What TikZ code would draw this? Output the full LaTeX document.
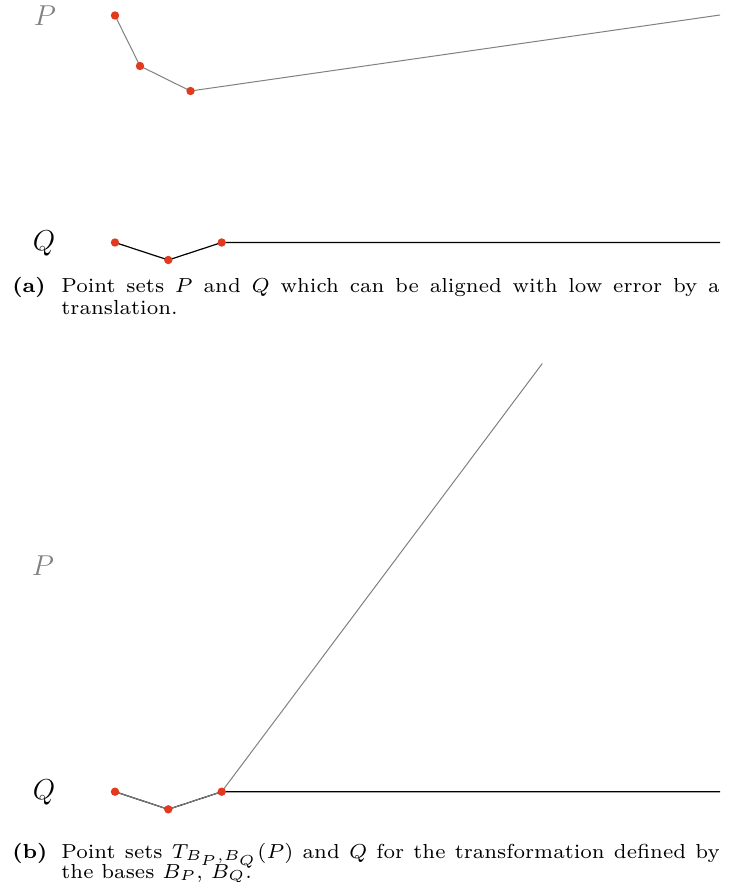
\documentclass[tikz,border=0pt]{standalone}
\usepackage{amsmath}
\usepackage{graphicx}
\definecolor{ptred}{HTML}{E33A1F}
\definecolor{pgray}{HTML}{808080}
\newcommand{\capsc}[1]{\scalebox{1.45}{\fontsize{7}{8.4}\selectfont #1}}
\begin{document}
\begin{tikzpicture}[x=0.5pt,y=-0.5pt,
  ptdot/.style={circle,fill=ptred,inner sep=0pt,minimum size=4.2pt},
  pline/.style={draw=pgray,line width=0.5pt},
  qline/.style={draw=black,line width=0.6pt},
  setlbl/.style={inner sep=0pt,font=\fontsize{14.6}{16}\selectfont},
  capline/.style={anchor=base west,inner sep=0pt}]
\useasboundingbox (0,0) rectangle (733,882);

% ---------- panel (a) ----------
\node[setlbl,text=pgray] (lpa) at (45,16) {$P$};
\node[setlbl] (lqa) at (44,243) {$Q$};
\coordinate (pa1) at (115,15.5);
\coordinate (pa2) at (140,66);
\coordinate (pa3) at (190.5,91);
\coordinate (pa4) at (720,15);
\coordinate (qa1) at (115,242.5);
\coordinate (qa2) at (168.3,260);
\coordinate (qa3) at (221.7,242.5);
\coordinate (qa4) at (720,242.5);
\draw[pline] (pa1) -- (pa2) -- (pa3) -- (pa4);
\draw[qline] (qa1) -- (qa2) -- (qa3) -- (qa4);
\foreach \c in {pa1,pa2,pa3,qa1,qa2,qa3} \node[ptdot] (d\c) at (\c) {};

\node[capline] (capa0) at (12,292.5) {\capsc{\textbf{(a)}}};
\node[capline] (capa1) at (61,292.5) {\capsc{\hbox to 227pt{Point sets $P$ and $Q$ which can be aligned with low error by a}}};
\node[capline] (capa2) at (61,314.5) {\capsc{translation.}};

% ---------- panel (b) ----------
\node[setlbl,text=pgray] (lpb) at (43,566) {$P$};
\node[setlbl] (lqb) at (44,792) {$Q$};
\coordinate (qb1) at (115,791.7);
\coordinate (qb2) at (168.3,809.3);
\coordinate (qb3) at (221.7,791.7);
\coordinate (qb4) at (720,791.7);
\coordinate (pb4) at (542.3,363.5);
\draw[qline] (qb1) -- (qb2) -- (qb3) -- (qb4);
\draw[pline] (qb1) -- (qb2) -- (qb3) -- (pb4);
\foreach \c in {qb1,qb2,qb3} \node[ptdot] (d\c) at (\c) {};

\node[capline] (capb0) at (12,858) {\capsc{\textbf{(b)}}};
\node[capline] (capb1) at (61,858) {\capsc{\hbox to 227pt{Point sets $T_{B_P,B_Q}(P)$ and $Q$ for the transformation defined by}}};
\node[capline] (capb2) at (61,878) {\capsc{the bases $B_P$, $B_Q$.}};
\end{tikzpicture}
\end{document}
